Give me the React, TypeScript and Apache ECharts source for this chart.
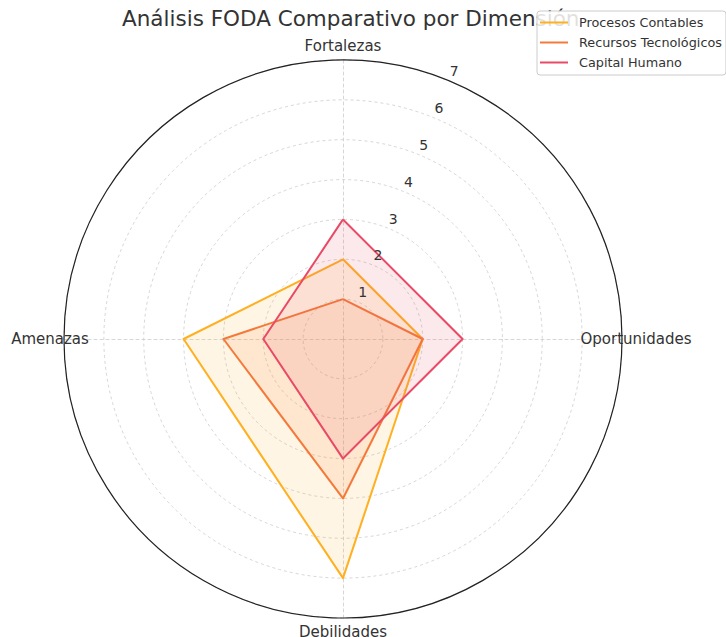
import React, { useEffect, useRef } from "react";
import * as echarts from "echarts";

// Dimensions listed counter-clockwise from the top (ECharts radar order),
// which places them clockwise as Fortalezas, Oportunidades, Debilidades, Amenazas.
const dimensions = ["Fortalezas", "Amenazas", "Debilidades", "Oportunidades"];
const maxValue = 7;
const seriesNames = ["Procesos Contables", "Recursos Tecnológicos", "Capital Humano"];
const procesosContables = [2, 4, 6, 2];
const recursosTecnologicos = [1, 3, 4, 2];
const capitalHumano = [3, 2, 3, 3];
const seriesColors = ["#FFB020", "#F47A3A", "#E94A66"];
const radialTicks = [1, 2, 3, 4, 5, 6, 7];

const FONT = "DejaVu Sans, Verdana, sans-serif";

export default function App() {
  const ref = useRef<HTMLDivElement>(null);
  useEffect(() => {
    if (!ref.current) return;
    const chart = echarts.init(ref.current, null, { renderer: "svg" });
    const values = [procesosContables, recursosTecnologicos, capitalHumano];
    const center = [343, 339];
    const radius = 279;
    chart.setOption({
      animation: false,
      backgroundColor: "#ffffff",
      title: {
        text: "Análisis FODA Comparativo por Dimensión",
        left: 122,
        top: 7,
        padding: 0,
        z: 1,
        textStyle: { fontFamily: FONT, fontSize: 21.5, fontWeight: "normal", color: "#333333" },
      },
      legend: {
        data: seriesNames,
        orient: "vertical",
        left: 537,
        top: 11,
        z: 10,
        icon: "rect",
        itemWidth: 28,
        itemHeight: 2,
        itemGap: 5,
        padding: [4, 4, 5, 3],
        backgroundColor: "rgba(255,255,255,0.85)",
        borderColor: "#cccccc",
        borderWidth: 1,
        borderRadius: 3,
        textStyle: {
          fontFamily: FONT,
          fontSize: 12.8,
          color: "#333333",
          lineHeight: 15,
          padding: [0, 0, 0, 6],
        },
      },
      polar: { center, radius },
      angleAxis: {
        type: "value",
        min: 0,
        max: 360,
        startAngle: 67.5,
        axisLine: { show: true, lineStyle: { color: "#222222", width: 1.2 } },
        axisTick: { show: false },
        axisLabel: { show: false },
        splitLine: { show: false },
        z: 5,
      },
      radiusAxis: {
        type: "value",
        min: 0,
        max: maxValue,
        interval: 1,
        axisLine: { show: false },
        axisTick: { show: false },
        splitLine: { show: false },
        z: 6,
        axisLabel: {
          show: true,
          margin: 0,
          align: "left",
          verticalAlign: "bottom",
          lineHeight: 20,
          fontFamily: FONT,
          fontSize: 14,
          color: "#333333",
          formatter: (v: number) => (radialTicks.includes(v) ? String(v) : ""),
        },
      },
      radar: {
        center,
        radius,
        shape: "circle",
        startAngle: 90,
        splitNumber: maxValue,
        indicator: dimensions.map((d) => ({ name: d, max: maxValue, min: 0 })),
        axisName: {
          fontFamily: FONT,
          fontSize: 15,
          color: "#333333",
          align: "center",
          verticalAlign: "middle",
        },
        nameGap: 14,
        splitArea: { show: false },
        splitLine: { lineStyle: { color: "#cccccc", type: [3, 3], width: 0.8 } },
        axisLine: { lineStyle: { color: "#cccccc", type: [3, 3], width: 0.8 } },
        axisTick: { show: false },
        axisLabel: { show: false },
      },
      series: [
        {
          type: "radar",
          symbol: "none",
          z: 3,
          data: seriesNames.map((name, i) => ({
            name,
            value: values[i],
            lineStyle: { color: seriesColors[i], width: 2 },
            itemStyle: { color: seriesColors[i] },
            areaStyle: { color: seriesColors[i], opacity: 0.12 },
          })),
        },
      ],
    });
    return () => chart.dispose();
  }, []);
  return (
    <div
      ref={ref}
      style={{ position: "fixed", left: 0, top: 0, width: 726, height: 637 }}
    />
  );
}
